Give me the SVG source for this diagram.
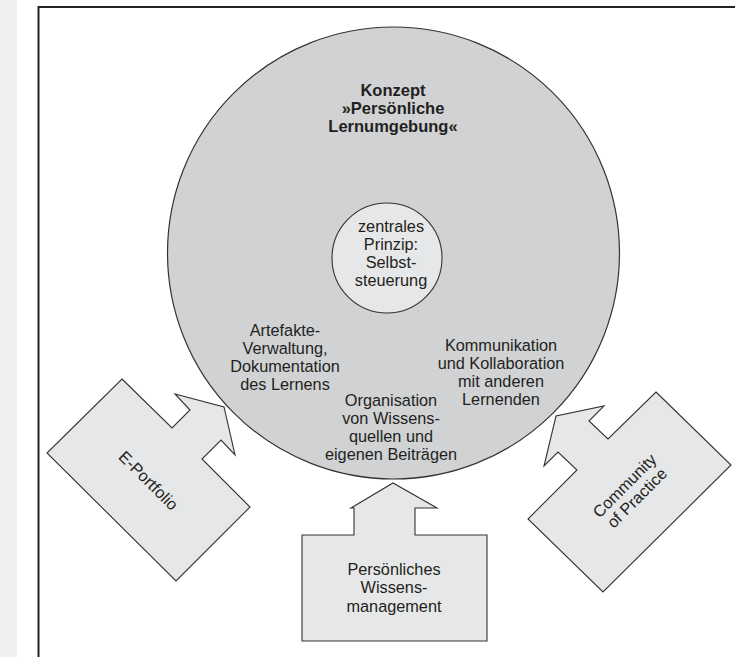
<svg xmlns="http://www.w3.org/2000/svg" width="735" height="657" viewBox="0 0 735 657">
<style>
.t{font-family:"Liberation Sans",Arial,sans-serif;font-size:16.3px;fill:#231f20;text-anchor:middle}
.b{font-weight:bold;font-size:16.5px}
.shape{fill:#e6e7e8;stroke:#333;stroke-width:1.1;stroke-linejoin:miter}
</style>
<rect x="0" y="0" width="735" height="657" fill="#fff"/>
<rect x="0" y="0" width="17" height="657" fill="#f0f0f0"/>
<path d="M38.5,657 V7 H735" fill="none" stroke="#222" stroke-width="2"/>
<g id="konzept">
<circle cx="393.5" cy="253" r="226" fill="#d1d2d4" stroke="#333" stroke-width="1.2"/>
<text class="t b" x="393" y="96">Konzept</text>
<text class="t b" x="393" y="114">»Persönliche</text>
<text class="t b" x="393" y="132">Lernumgebung«</text>
</g>
<g id="prinzip">
<circle cx="387" cy="258" r="55" fill="#e6e7e8" stroke="#333" stroke-width="1.1"/>
<text class="t" x="391" y="232">zentrales</text>
<text class="t" x="391" y="250">Prinzip:</text>
<text class="t" x="391" y="268">Selbst-</text>
<text class="t" x="391" y="286">steuerung</text>
</g>
<g id="artefakte">
<text class="t" x="285" y="336">Artefakte-</text>
<text class="t" x="285" y="354">Verwaltung,</text>
<text class="t" x="285" y="372">Dokumentation</text>
<text class="t" x="285" y="390">des Lernens</text>
</g>
<g id="kommunikation">
<text class="t" x="501" y="351">Kommunikation</text>
<text class="t" x="501" y="369">und Kollaboration</text>
<text class="t" x="501" y="387">mit anderen</text>
<text class="t" x="501" y="405">Lernenden</text>
</g>
<g id="organisation">
<text class="t" x="391" y="406">Organisation</text>
<text class="t" x="391" y="424">von Wissens-</text>
<text class="t" x="391" y="442">quellen und</text>
<text class="t" x="391" y="460">eigenen Beiträgen</text>
</g>
<g id="connectors">
<polygon id="arrow-eportfolio" class="shape" points="122,379 172,428 190,410 175,394 224,407 235,455 221,440 202,459 250,507 176,581 47,453"/>
<polygon id="arrow-wissensmanagement" class="shape" points="302,535 354,535 354,508 351,508 393,483 437,508 415,508 415,535 487,535 487,641 302,641"/>
<polygon id="arrow-community" class="shape" points="656,392 731,465 603,592 528,519 577,470 558,452 544,466 556,416 604,406 589,421 608,439"/>
</g>
<g id="eportfolio">
<text class="t" transform="translate(148,481) rotate(45)" x="0" y="5">E-Portfolio</text>
</g>
<g id="wissensmanagement">
<text class="t" x="394" y="575">Persönliches</text>
<text class="t" x="394" y="593">Wissens-</text>
<text class="t" x="394" y="612">management</text>
</g>
<g id="community">
<g transform="translate(631,492) rotate(-45)">
<text class="t" x="0" y="-3.5">Community</text>
<text class="t" x="0" y="14">of Practice</text>
</g>
</g>
</svg>
